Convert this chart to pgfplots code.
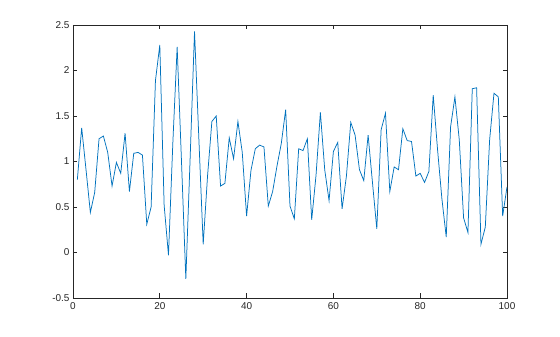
\documentclass[border=0pt]{standalone}
\usepackage{pgfplots}
\pgfplotsset{compat=1.18}
\usepackage{fontspec}
\setmainfont{Liberation Sans}
\definecolor{mblue}{rgb}{0,0.447,0.741}
\definecolor{maxis}{rgb}{0.15,0.15,0.15}
\begin{document}
\begin{tikzpicture}
\begin{axis}[
  name=ax,
  scale only axis,
  width=434bp, height=273bp,
  xmin=0, xmax=100, ymin=-0.5, ymax=2.5,
  xtick={0,20,...,100},
  ytick={-0.5,0,0.5,1,1.5,2,2.5},
  tick pos=both,
  tick align=inside,
  major tick length=4.5bp,
  axis line style={maxis, line width=0.6bp},
  every tick/.style={maxis, line width=0.6bp},
  tick label style={font=\fontsize{10}{12}\selectfont, text=maxis},
  /pgf/number format/assume math mode=true,
  yticklabel style={/pgf/number format/fixed},
  xticklabel style={yshift=-1bp},
]
\addplot[mblue, line width=0.75bp, mark=none] coordinates {
(1,0.80) (2,1.37) (3,0.91) (4,0.44) (5,0.66) (6,1.25) (7,1.28) (8,1.10) (9,0.73) (10,0.99)
(11,0.87) (12,1.31) (13,0.67) (14,1.09) (15,1.10) (16,1.07) (17,0.31) (18,0.50) (19,1.89) (20,2.28)
(21,0.52) (22,-0.03) (23,1.20) (24,2.26) (25,1.00) (26,-0.29) (27,1.05) (28,2.43) (29,1.25) (30,0.09)
(31,0.84) (32,1.44) (33,1.50) (34,0.73) (35,0.76) (36,1.26) (37,1.03) (38,1.44) (39,1.10) (40,0.40)
(41,0.90) (42,1.14) (43,1.18) (44,1.16) (45,0.51) (46,0.67) (47,0.95) (48,1.20) (49,1.57) (50,0.51)
(51,0.37) (52,1.14) (53,1.12) (54,1.25) (55,0.36) (56,0.85) (57,1.54) (58,0.91) (59,0.57) (60,1.11)
(61,1.21) (62,0.48) (63,0.84) (64,1.43) (65,1.29) (66,0.91) (67,0.79) (68,1.29) (69,0.77) (70,0.26)
(71,1.35) (72,1.53) (73,0.67) (74,0.94) (75,0.91) (76,1.36) (77,1.23) (78,1.22) (79,0.84) (80,0.87)
(81,0.77) (82,0.89) (83,1.73) (84,1.13) (85,0.59) (86,0.17) (87,1.38) (88,1.71) (89,1.24) (90,0.38)
(91,0.22) (92,1.80) (93,1.81) (94,0.09) (95,0.28) (96,1.24) (97,1.75) (98,1.71) (99,0.40) (100,0.72)
};
\end{axis}
\pgfresetboundingbox
\path (ax.south west) ++(-73bp,-39bp) rectangle ++(560bp,337bp);
\end{tikzpicture}
\end{document}
